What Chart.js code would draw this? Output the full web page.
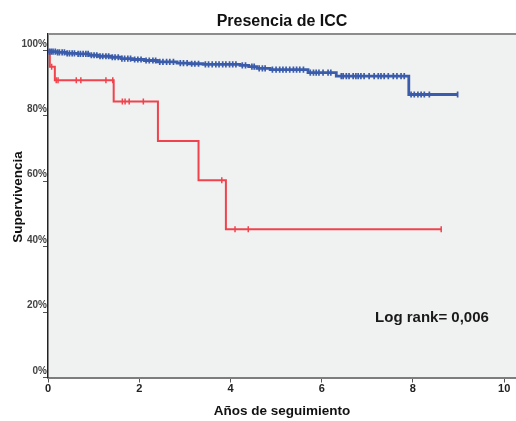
<!DOCTYPE html>
<html lang="es">
<head>
    <meta charset="utf-8">
    <script src="https://cdn.jsdelivr.net/npm/chart.js"></script>
    <title>Presencia de ICC</title>
    <style>
        body { margin: 0; background: white; overflow: hidden; }
        canvas { display: block; }
    </style>
</head>
<body>
    <canvas id="kmChart" width="516" height="421"></canvas>
    <script>
        // Kaplan-Meier: tiempos de evento (años) y supervivencia (%) tras cada evento
        var blueTimes = [0, 0.2, 0.4, 0.64, 0.9, 1.1, 1.38, 1.6, 1.85, 2.11, 2.4, 2.83, 3.1, 3.4, 4.21, 4.4, 4.58, 4.87, 5.7, 6.32, 7.91, 8.98];
        var blueSurv = [99.6, 99.4, 99.1, 98.9, 98.5, 98.2, 97.9, 97.5, 97.2, 96.9, 96.5, 96.1, 95.9, 95.7, 95.4, 95.0, 94.5, 94.1, 93.2, 92.1, 86.5, 86.5];
        var blueCensor = [0.03, 0.07, 0.11, 0.16, 0.21, 0.25, 0.31, 0.36, 0.42, 0.47, 0.53, 0.58, 0.66, 0.71, 0.77, 0.83, 0.88, 0.95, 1.01, 1.07, 1.14, 1.2, 1.27, 1.33, 1.41, 1.47, 1.54, 1.62, 1.68, 1.75, 1.81, 1.9, 1.97, 2.04, 2.15, 2.22, 2.3, 2.36, 2.45, 2.52, 2.6, 2.67, 2.75, 2.9, 2.97, 3.05, 3.15, 3.22, 3.3, 3.45, 3.52, 3.6, 3.68, 3.75, 3.83, 3.9, 3.98, 4.05, 4.12, 4.26, 4.33, 4.47, 4.52, 4.63, 4.7, 4.76, 4.92, 5.0, 5.08, 5.15, 5.22, 5.3, 5.38, 5.45, 5.52, 5.6, 5.75, 5.82, 5.88, 5.94, 6.03, 6.14, 6.2, 6.43, 6.47, 6.54, 6.6, 6.69, 6.75, 6.8, 6.86, 6.93, 7.04, 7.15, 7.24, 7.3, 7.37, 7.46, 7.57, 7.65, 7.74, 7.81, 7.96, 8.03, 8.11, 8.18, 8.25, 8.36, 8.98];

        var redTimes = [0, 0.04, 0.15, 1.44, 2.41, 3.3, 3.9, 8.62];
        var redSurv = [100, 95.0, 90.9, 84.4, 72.3, 60.3, 45.3, 45.3];
        var redCensor = [0.08, 0.18, 0.22, 0.62, 0.72, 1.27, 1.42, 1.63, 1.69, 1.78, 2.09, 3.81, 4.1, 4.39, 8.62];

        var xTicks = [0, 2, 4, 6, 8, 10];
        var yTicks = [0, 20, 40, 60, 80, 100];
        var logRankText = "Log rank= 0,006";
        var logRankPos = [7.17, 18.2];

        var blueColor = "#3a5cab";
        var redColor = "#f0434d";
        var fondoColor = "#f0f1f1";
        var fuente = "'Liberation Sans', Arial, sans-serif";

        function stepPoints(times, surv) {
            return times.map(function(t, i) { return { x: t, y: surv[i] }; });
        }

        function survAt(times, surv, t) {
            var s = surv[0];
            for (var i = 0; i < times.length; i++) {
                if (times[i] <= t) s = surv[i];
            }
            return s;
        }

        function censorPoints(censor, times, surv) {
            return censor.map(function(t) { return { x: t, y: survAt(times, surv, t) }; });
        }

        var fondoPlugin = {
            id: "fondo",
            beforeDraw: function(chart) {
                var a = chart.chartArea;
                var ctx = chart.ctx;
                ctx.save();
                ctx.fillStyle = fondoColor;
                ctx.fillRect(a.left, a.top, chart.width - a.left + 4, a.bottom - a.top);
                ctx.restore();
            },
            afterDraw: function(chart) {
                var ctx = chart.ctx;
                var a = chart.chartArea;
                ctx.save();
                // borde derecho sin linea
                ctx.fillStyle = fondoColor;
                ctx.fillRect(a.right - 3, a.top + 1, 6, a.bottom - a.top - 2);
                // linea superior del marco
                ctx.strokeStyle = "#8c8c8c";
                ctx.lineWidth = 2;
                ctx.beginPath();
                ctx.moveTo(a.left, a.top);
                ctx.lineTo(chart.width + 4, a.top);
                ctx.stroke();
                ctx.restore();

                ctx.save();
                // titulo del eje Y
                ctx.fillStyle = "#111";
                ctx.font = "bold 13.5px " + fuente;
                ctx.textAlign = "center";
                ctx.textBaseline = "middle";
                ctx.translate(18, 197);
                ctx.rotate(-Math.PI / 2);
                ctx.fillText("Supervivencia", 0, 0);
                ctx.restore();

                ctx.save();
                ctx.fillStyle = "#1a1a1a";
                ctx.font = "bold 15px " + fuente;
                ctx.textAlign = "left";
                ctx.textBaseline = "middle";
                ctx.fillText(logRankText,
                    chart.scales.x.getPixelForValue(logRankPos[0]),
                    chart.scales.y.getPixelForValue(logRankPos[1]));
                ctx.restore();
            }
        };

        var ctx = document.getElementById("kmChart").getContext("2d");
        var chart = new Chart(ctx, {
            type: "scatter",
            data: {
                datasets: [
                    {
                        data: censorPoints(blueCensor, blueTimes, blueSurv),
                        showLine: false,
                        pointStyle: "line",
                        rotation: 90,
                        radius: 3.1,
                        borderColor: blueColor,
                        borderWidth: 1.7
                    },
                    {
                        data: stepPoints(blueTimes, blueSurv),
                        showLine: true,
                        stepped: true,
                        borderColor: blueColor,
                        borderWidth: 2.8,
                        pointRadius: 0,
                        fill: false
                    },
                    {
                        data: censorPoints(redCensor, redTimes, redSurv),
                        showLine: false,
                        pointStyle: "line",
                        rotation: 90,
                        radius: 3,
                        borderColor: redColor,
                        borderWidth: 1.5
                    },
                    {
                        data: stepPoints(redTimes, redSurv),
                        showLine: true,
                        stepped: true,
                        borderColor: redColor,
                        borderWidth: 2,
                        pointRadius: 0,
                        fill: false
                    }
                ]
            },
            options: {
                responsive: false,
                animation: false,
                events: [],
                layout: { padding: 0, autoPadding: false },
                plugins: {
                    legend: { display: false },
                    tooltip: { enabled: false },
                    title: {
                        display: true,
                        text: "Presencia de ICC",
                        fullSize: false,
                        color: "#111",
                        font: { family: fuente, size: 16, weight: "bold" },
                        padding: { top: 12, bottom: 2.8 }
                    }
                },
                scales: {
                    x: {
                        type: "linear",
                        min: 0,
                        max: 10.26,
                        afterFit: function(s) { s.height = 43.5; },
                        afterBuildTicks: function(s) {
                            s.ticks = xTicks.map(function(v) { return { value: v }; });
                        },
                        ticks: {
                            color: "#222",
                            padding: 0,
                            maxRotation: 0,
                            font: { family: fuente, size: 11, weight: "bold" }
                        },
                        grid: {
                            drawOnChartArea: false,
                            drawTicks: true,
                            tickLength: 5,
                            color: "#555"
                        },
                        border: { color: "#7d7d7d", width: 2 },
                        title: {
                            display: true,
                            text: "Años de seguimiento",
                            color: "#111",
                            font: { family: fuente, size: 13.5, weight: "bold" },
                            padding: { top: 0, bottom: 2 }
                        }
                    },
                    y: {
                        min: 0,
                        max: 105,
                        afterFit: function(s) { s.width = 48; },
                        afterBuildTicks: function(s) {
                            s.ticks = yTicks.map(function(v) { return { value: v }; });
                        },
                        ticks: {
                            color: "#444",
                            padding: -4,
                            labelOffset: -6.5,
                            font: { family: fuente, size: 10, weight: "bold" },
                            callback: function(v) { return v + "%"; }
                        },
                        grid: {
                            drawOnChartArea: false,
                            drawTicks: true,
                            tickLength: 5,
                            color: "#555"
                        },
                        border: { color: "#222", width: 1.5 }
                    }
                }
            },
            plugins: [fondoPlugin]
        });
    </script>
</body>
</html>
